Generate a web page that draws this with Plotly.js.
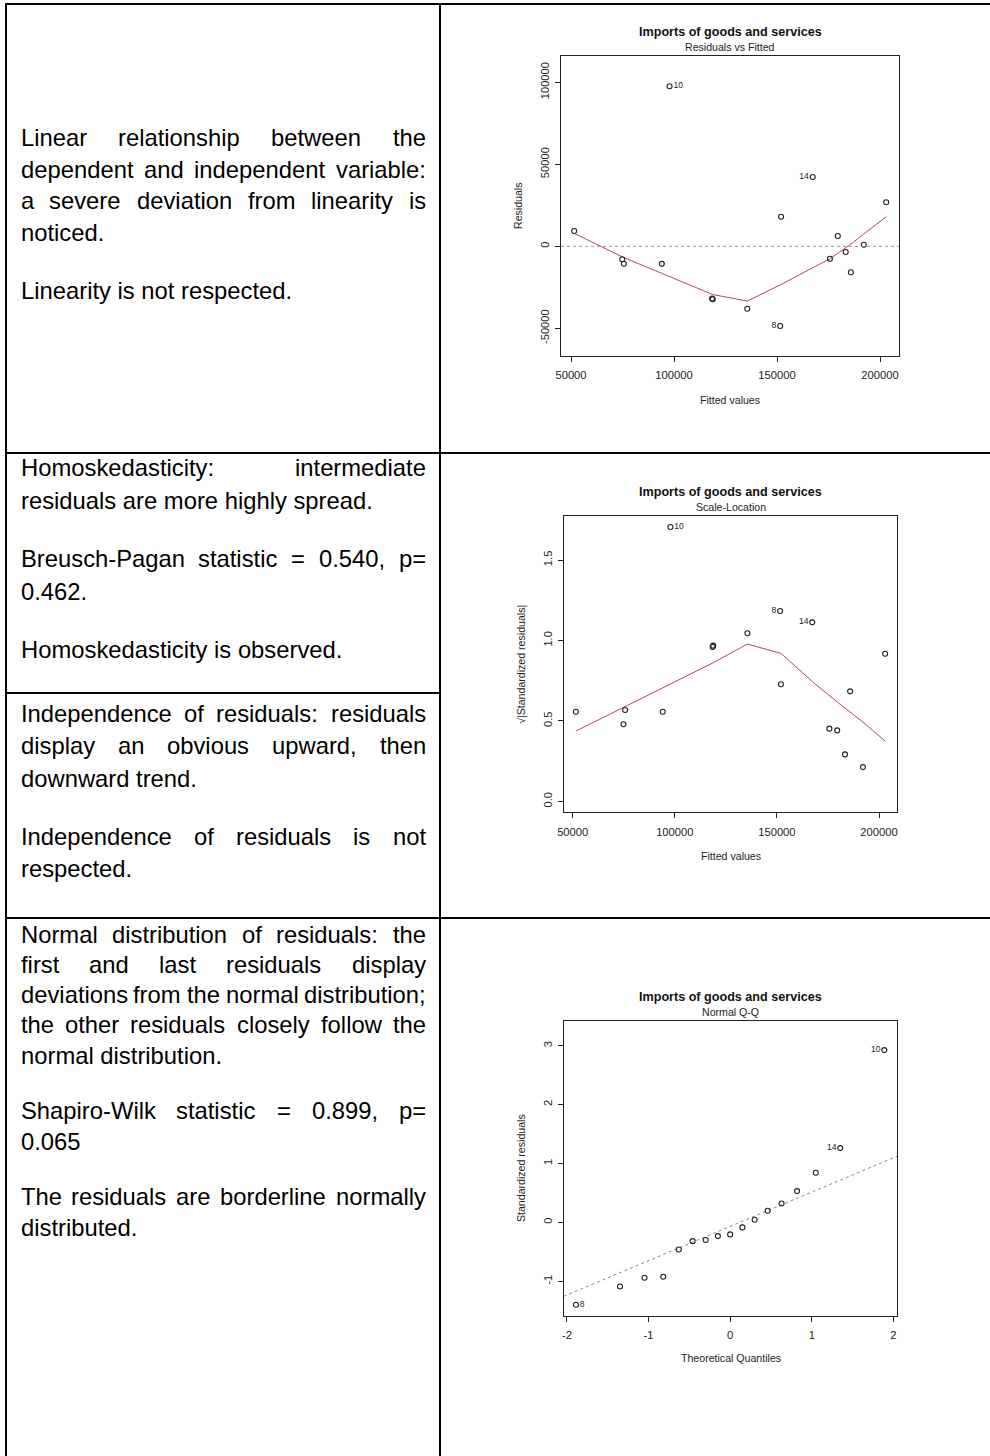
<!DOCTYPE html>
<html><head><meta charset="utf-8">
<script src="https://cdn.plot.ly/plotly-3.0.1.min.js"></script>
<style>html,body{margin:0;padding:0;background:#fff;} #chart{width:990px;height:1456px;}</style>
</head><body><div id="chart"></div>
<script>
// ---------------- data ----------------
const fittedValues = [51550, 74870, 75670, 94100, 97860, 118500, 118800, 135570, 151560, 151980, 167330, 175700, 179520, 183350, 185860, 192130, 203000];
const residuals    = [9329, -7927, -10600, -10700, 97561, -31900, -32300, -38049, -48600, 18049, 42256, -7561, 6280, -3476, -15854, 976, 26829];
const residLowess  = [7900, -6500, -6900, -16500, -18400, -29300, -29400, -33400, -23600, -23300, -13100, -7600, -4300, -1200, 1300, 7500, 18000];
const sqrtStdResid = [0.557, 0.479, 0.568, 0.557, 1.706, 0.960, 0.968, 1.045, 1.183, 0.728, 1.113, 0.452, 0.441, 0.292, 0.684, 0.213, 0.918];
const sqrtLowess   = [0.437, 0.586, 0.590, 0.706, 0.730, 0.860, 0.862, 0.978, 0.925, 0.920, 0.745, 0.655, 0.618, 0.580, 0.556, 0.493, 0.375];
const obsLabels    = ['', '', '', '', '10', '', '', '', '8', '', '14', '', '', '', '', '', ''];

const theoQuantiles  = [-1.89, -1.35, -1.05, -0.82, -0.63, -0.46, -0.30, -0.15, 0, 0.15, 0.30, 0.46, 0.63, 0.82, 1.05, 1.35, 1.89];
const stdResidSorted = [-1.399, -1.087, -0.940, -0.923, -0.459, -0.318, -0.300, -0.233, -0.204, -0.085, 0.045, 0.197, 0.322, 0.531, 0.842, 1.261, 2.925];
const qqLabels       = ['8', '', '', '', '', '', '', '', '', '', '', '', '', '', '', '14', '10'];
const qqLineX = [-2.04, 2.05];
const qqLineY = [-1.255, 1.126];

const fittedTickVals = [50000, 100000, 150000, 200000];
const fittedTickText = ['50000', '100000', '150000', '200000'];
const residTickVals  = [-50000, 0, 50000, 100000];
const residTickText  = ['-50000', '0', '50000', '100000'];
const slTickVals = [0, 0.5, 1.0, 1.5];
const slTickText = ['0.0', '0.5', '1.0', '1.5'];
const qqXTickVals = [-2, -1, 0, 1, 2];
const qqXTickText = ['-2', '-1', '0', '1', '2'];
const qqYTickVals = [-1, 0, 1, 2, 3];
const qqYTickText = ['-1', '0', '1', '2', '3'];

const mainTitle = 'Imports of goods and services';
const subTitles = ['Residuals vs Fitted', 'Scale-Location', 'Normal Q-Q'];
const xTitles = ['Fitted values', 'Fitted values', 'Theoretical Quantiles'];
const yTitles = ['Residuals', '\u221A|Standardized residuals|', 'Standardized residuals'];

const cellParagraphs = [
  [["Linear relationship between the", "dependent and independent variable:", "a severe deviation from linearity is", "noticed."],
   ["Linearity is not respected."]],
  [["Homoskedasticity: intermediate", "residuals are more highly spread."],
   ["Breusch-Pagan statistic = 0.540, p=", "0.462."],
   ["Homoskedasticity is observed."]],
  [["Independence of residuals: residuals", "display an obvious upward, then", "downward trend."],
   ["Independence of residuals is not", "respected."]],
  [["Normal distribution of residuals: the", "first and last residuals display", "deviations from the normal distribution;", "the other residuals closely follow the", "normal distribution."],
   ["Shapiro-Wilk statistic = 0.899, p=", "0.065"],
   ["The residuals are borderline normally", "distributed."]]
];

// ---------------- layout helpers ----------------
const W = 990, H = 1456;
const FONT = 'Liberation Sans, Arial, sans-serif';
const INK = '#222';
const px = v => v / W;
const py = v => 1 - v / H;

const annotations = [];
const shapes = [];
function ann(text, x, y, size, extra) {
  annotations.push(Object.assign({
    text: text, xref: 'paper', yref: 'paper', x: px(x), y: py(y),
    xanchor: 'center', yanchor: 'middle', showarrow: false,
    borderpad: 0, borderwidth: 0,
    font: {family: FONT, size: size, color: INK}
  }, extra || {}));
}
function hline(x0, x1, y) {
  shapes.push({type: 'line', xref: 'paper', yref: 'paper', x0: px(x0), x1: px(x1), y0: py(y), y1: py(y), line: {color: '#000', width: 2}});
}
function vline(x, y0, y1) {
  shapes.push({type: 'line', xref: 'paper', yref: 'paper', x0: px(x), x1: px(x), y0: py(y0), y1: py(y1), line: {color: '#000', width: 2}});
}

// table grid
hline(5, 990, 4);
hline(5, 990, 453);
hline(5, 440, 693);
hline(5, 990, 918);
vline(6, 3, 1456);
vline(440, 3, 1456);

// justified left-column text
const TXT_SIZE = 23.8, TXT_L = 20.5, TXT_R = 426;
const canvas = document.createElement('canvas');
const ctx = canvas.getContext('2d');
ctx.font = TXT_SIZE + 'px "Liberation Sans"';
const meas = s => ctx.measureText(s).width;
const cellGeom = [
  {top: 137.3, lh: 31.8, gap: 58},
  {top: 467.3, lh: 32.7, gap: 58.3},
  {top: 713.3, lh: 32.4, gap: 58},
  {top: 934.0, lh: 30.3, gap: 55.7}
];
cellParagraphs.forEach((paras, ci) => {
  const g = cellGeom[ci];
  let y = g.top;
  paras.forEach((lines, pi) => {
    if (pi > 0) y += g.gap - g.lh;
    lines.forEach((line, li) => {
      const words = line.split(' ');
      const justify = li < lines.length - 1 && words.length > 1;
      const tfont = {family: 'Liberation Sans', size: TXT_SIZE, color: '#000'};
      if (!justify) {
        ann(line, TXT_L, y, TXT_SIZE, {xanchor: 'left', font: tfont});
      } else {
        const ws = words.map(meas);
        const total = ws.reduce((a, b) => a + b, 0);
        const gapW = (TXT_R - TXT_L - total) / (words.length - 1);
        let x = TXT_L;
        words.forEach((w, wi) => {
          ann(w, x, y, TXT_SIZE, {xanchor: 'left', font: tfont});
          x += ws[wi] + gapW;
        });
      }
      y += g.lh;
    });
  });
});

// plot geometry (pixel frames)
const frames = [
  {l: 561, r: 899, t: 56, b: 356, title: 32.3, sub: 47, xt: 400, yt: 518},
  {l: 564.3, r: 897, t: 516, b: 812.3, title: 492.3, sub: 507.3, xt: 856, yt: 520.7},
  {l: 564.3, r: 897, t: 1020.7, b: 1316, title: 996.7, sub: 1011.7, xt: 1358, yt: 521.7}
];
frames.forEach((f, i) => {
  const cx = (f.l + f.r) / 2;
  ann('<b>' + mainTitle + '</b>', cx, f.title, 12.6, {font: {family: FONT, size: 12.6, color: '#111'}});
  ann(subTitles[i], cx, f.sub, 10.6);
  ann(xTitles[i], cx, f.xt, 10.6);
  ann(yTitles[i], f.yt, (f.t + f.b) / 2, 10.6, {textangle: -90});
});

function axisBase(f, horizontal) {
  return {
    domain: horizontal ? [px(f.l), px(f.r)] : [py(f.b), py(f.t)],
    showline: true, mirror: true, linecolor: INK, linewidth: 1,
    ticks: 'outside', ticklen: 5, tickwidth: 1, tickcolor: INK,
    showgrid: false, zeroline: false, fixedrange: true,
    tickfont: {family: FONT, size: 11.2, color: INK},
    tickmode: 'array', ticklabelstandoff: horizontal ? 4 : 2
  };
}

const marker = {symbol: 'circle-open', size: 5, color: INK, line: {width: 1.1, color: INK}};
const lowessColor = '#b24848';

function labelTrace(xs, ys, labels, sides, xa, ya) {
  const lx = [], ly = [], lt = [], lp = [];
  labels.forEach((t, i) => {
    if (t) { lx.push(xs[i]); ly.push(ys[i]); lt.push(t); lp.push(sides[t] === 'L' ? 'middle left' : 'middle right'); }
  });
  return {type: 'scatter', mode: 'markers+text', x: lx, y: ly, text: lt, textposition: lp,
    marker: {size: 4.5, color: 'rgba(0,0,0,0)', line: {width: 0}},
    textfont: {family: FONT, size: 8.6, color: INK}, xaxis: xa, yaxis: ya, hoverinfo: 'skip', cliponaxis: false};
}

const traces = [
  // Residuals vs Fitted
  {type: 'scatter', mode: 'lines', x: fittedValues, y: residLowess, line: {color: lowessColor, width: 1}, xaxis: 'x', yaxis: 'y'},
  {type: 'scatter', mode: 'markers', x: fittedValues, y: residuals, marker: marker, xaxis: 'x', yaxis: 'y'},
  labelTrace(fittedValues, residuals, obsLabels, {'10': 'R', '14': 'L', '8': 'L'}, 'x', 'y'),
  // Scale-Location
  {type: 'scatter', mode: 'lines', x: fittedValues, y: sqrtLowess, line: {color: lowessColor, width: 1}, xaxis: 'x2', yaxis: 'y2'},
  {type: 'scatter', mode: 'markers', x: fittedValues, y: sqrtStdResid, marker: marker, xaxis: 'x2', yaxis: 'y2'},
  labelTrace(fittedValues, sqrtStdResid, obsLabels, {'10': 'R', '14': 'L', '8': 'L'}, 'x2', 'y2'),
  // Normal Q-Q
  {type: 'scatter', mode: 'lines', x: qqLineX, y: qqLineY, line: {color: '#888', width: 1, dash: 'dot'}, xaxis: 'x3', yaxis: 'y3'},
  {type: 'scatter', mode: 'markers', x: theoQuantiles, y: stdResidSorted, marker: marker, xaxis: 'x3', yaxis: 'y3'},
  labelTrace(theoQuantiles, stdResidSorted, qqLabels, {'10': 'L', '14': 'L', '8': 'R'}, 'x3', 'y3')
];

shapes.push({type: 'line', xref: 'x domain', yref: 'y', x0: 0, x1: 1, y0: 0, y1: 0, line: {color: '#999', width: 1, dash: 'dot'}});

const layout = {
  width: W, height: H, margin: {l: 0, r: 0, t: 0, b: 0},
  paper_bgcolor: '#fff', plot_bgcolor: '#fff', showlegend: false,
  font: {family: FONT, color: INK},
  xaxis:  Object.assign(axisBase(frames[0], true),  {anchor: 'y',  range: [45146, 209223], tickvals: fittedTickVals, ticktext: fittedTickText}),
  yaxis:  Object.assign(axisBase(frames[0], false), {anchor: 'x',  range: [-66890, 116037], tickvals: residTickVals, ticktext: residTickText, tickangle: -90}),
  xaxis2: Object.assign(axisBase(frames[1], true),  {anchor: 'y2', range: [45886, 208815], tickvals: fittedTickVals, ticktext: fittedTickText}),
  yaxis2: Object.assign(axisBase(frames[1], false), {anchor: 'x2', range: [-0.068, 1.774], tickvals: slTickVals, ticktext: slTickText, tickangle: -90}),
  xaxis3: Object.assign(axisBase(frames[2], true),  {anchor: 'y3', range: [-2.033, 2.045], tickvals: qqXTickVals, ticktext: qqXTickText}),
  yaxis3: Object.assign(axisBase(frames[2], false), {anchor: 'x3', range: [-1.589, 3.424], tickvals: qqYTickVals, ticktext: qqYTickText, tickangle: -90}),
  annotations: annotations,
  shapes: shapes
};

Plotly.newPlot('chart', traces, layout, {displayModeBar: false, staticPlot: true});
</script>
</body></html>
